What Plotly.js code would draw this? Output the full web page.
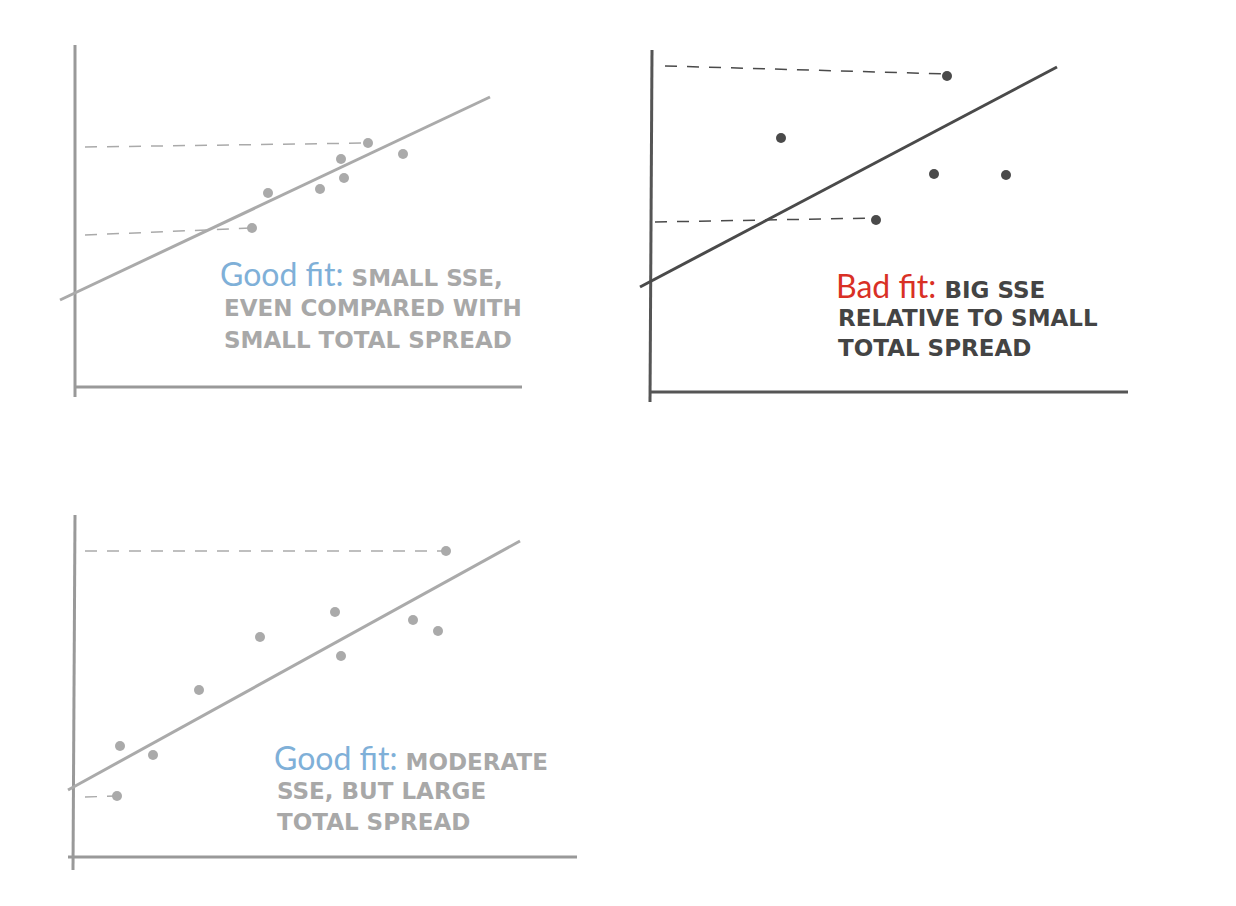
<!DOCTYPE html><html><head><script src="https://cdn.plot.ly/plotly-3.0.1.min.js"></script>
<style>body{margin:0}</style></head><body><div id="g" style="width:1236px;height:906px"></div><script>
// Panel 1 (good fit, small spread)
const p1x=[252,268,320,341,344,368,403], p1y=[228,193,189,159,178,143,154];
const p1line={x:[60,490],y:[300,97]};
const p1dash=[{x:[85,368],y:[147,143]},{x:[85,252],y:[235,228]}];
const p1axes={x:[75,75,75,522],y:[45,397,387,387]};
// Panel 2 (bad fit)
const p2x=[947,781,934,1006,876], p2y=[76,138,174,175,220];
const p2line={x:[640,1057],y:[287,67]};
const p2dash=[{x:[665,947],y:[66,74]},{x:[655,876],y:[222,218]}];
const p2axes={x:[652,650,650,1128],y:[50,402,392,392]};
// Panel 3 (good fit, large spread)
const p3x=[446,335,260,413,438,341,199,120,153,117], p3y=[551,612,637,620,631,656,690,746,755,796];
const p3line={x:[68,520],y:[790,541]};
const p3dash=[{x:[85,446],y:[551,551]},{x:[85,117],y:[797,796]}];
const p3axes={x:[75,73,68,577],y:[515,870,857,857]};

const light='#aaaaaa', dark='#4a4a4a';
const tr=[];
function panel(px,py,line,dash,ax,col,axcol){
  tr.push({x:ax.x.slice(0,2),y:ax.y.slice(0,2),mode:'lines',line:{color:axcol,width:3}});
  tr.push({x:ax.x.slice(2),y:ax.y.slice(2),mode:'lines',line:{color:axcol,width:3}});
  dash.forEach(d=>tr.push({x:d.x,y:d.y,mode:'lines',line:{color:col,width:1.5,dash:'12px,10px'}}));
  tr.push({x:line.x,y:line.y,mode:'lines',line:{color:col,width:3}});
  tr.push({x:px,y:py,mode:'markers',marker:{color:col,size:10}});
}
panel(p1x,p1y,p1line,p1dash,p1axes,light,'#999');
panel(p2x,p2y,p2line,p2dash,p2axes,dark,'#555');
panel(p3x,p3y,p3line,p3dash,p3axes,light,'#999');
const cf="'DejaVu Sans', sans-serif";
function ann(x,y,t,col,size){return {x:x,y:y,text:t,showarrow:false,xanchor:'left',yanchor:'middle',font:{color:col,size:size,family:cf}};}
const anns=[
 ann(218,273,"<span style='font-size:32px;color:#7fb0d8;font-family:Lato'>Good fit: </span><b>SMALL SSE,</b>",'#a8a8a8',23),
 ann(222,308,"<b>EVEN COMPARED WITH</b>",'#a8a8a8',23),
 ann(222,340,"<b>SMALL TOTAL SPREAD</b>",'#a8a8a8',23),
 ann(834,285,"<span style='font-size:32px;color:#d93025;font-family:Lato'>Bad fit: </span><b>BIG SSE</b>",'#444',23),
 ann(836,318,"<b>RELATIVE TO SMALL</b>",'#444',23),
 ann(836,348,"<b>TOTAL SPREAD</b>",'#444',23),
 ann(272,757,"<span style='font-size:32px;color:#7fb0d8;font-family:Lato'>Good fit: </span><b>MODERATE</b>",'#a8a8a8',23),
 ann(275,791,"<b>SSE, BUT LARGE</b>",'#a8a8a8',23),
 ann(275,822,"<b>TOTAL SPREAD</b>",'#a8a8a8',23)
];
Plotly.newPlot('g',tr,{width:1236,height:906,margin:{l:0,r:0,t:0,b:0},showlegend:false,
 paper_bgcolor:'#fff',plot_bgcolor:'#fff',annotations:anns,
 xaxis:{range:[0,1236],visible:false},yaxis:{range:[906,0],visible:false}},{staticPlot:true});
</script></body></html>
